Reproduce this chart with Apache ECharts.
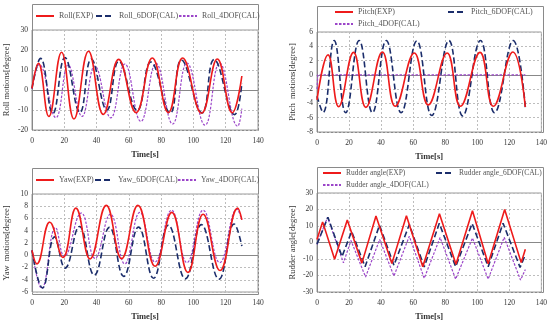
<!DOCTYPE html>
<html><head><meta charset="utf-8">
<script src="https://cdn.jsdelivr.net/npm/echarts@6/dist/echarts.min.js"></script>
<style>html,body{margin:0;padding:0;background:#fff}#c{width:550px;height:322px}</style>
</head><body><div id="c"></div>
<script>
// ---- data (time [s], value) ----
const xTicks = [0, 20, 40, 60, 80, 100, 120, 140];
const rollExp = [[0,0.8],[4,13.3],[10.4,-13.2],[18.3,18.9],[26,-14.5],[35,19.4],[44.2,-12.2],[53.7,15.3],[64.5,-11.3],[74.5,16],[84.5,-11.3],[93.3,16],[105,-11.6],[114.8,15.5],[124,-11.4],[130,7]];
const roll6 = [[0,0.8],[5.3,15.8],[12.9,-11.8],[20.4,16.2],[29.7,-11.3],[36.7,15.5],[46.4,-10],[53.8,14.4],[65.2,-10.2],[73.6,14],[85.6,-11.6],[92.5,15],[105.3,-11.5],[112.8,15.2],[125.5,-12.3],[130,3.5]];
const roll4 = [[0,0.5],[4.5,12.8],[14.8,-13.8],[22.4,12.5],[31,-13.2],[38.9,12],[48.8,-13.9],[57.5,13],[67.4,-15.7],[76.8,13.3],[87.1,-17],[96,13.5],[107.2,-17.6],[116.2,13.5],[127.4,-18.1],[130,-9.3]];
const pitchExp = [[0,-3.5],[6.9,2.8],[13.5,-4.45],[22.8,3.15],[30.5,-4.55],[40.8,3.2],[48.8,-4.4],[60.7,3.05],[69.4,-4.2],[81.2,3.05],[89.5,-4.4],[101.7,3.15],[110,-4.4],[122.2,3.2],[130,-4.5]];
const pitch6 = [[0,-3],[3.8,-5.25],[10.7,4.8],[17.9,-5.3],[26.3,4.8],[34.6,-5.3],[43.2,4.8],[52.5,-5.3],[62.3,4.75],[71.6,-5.7],[82.3,4.8],[90.9,-5.75],[102,4.8],[110.8,-5.3],[122.4,4.8],[130,-4.6]];
const pitch4 = [[0,-2],[0.5,0],[130,0]];
const yawExp = [[0,0.8],[3,-1.4],[11,5.4],[19.2,-0.35],[27.2,7.7],[36,-0.6],[46,8.15],[55.5,-0.55],[65.6,8.15],[76.3,-1.8],[86.6,7],[96.6,-2.8],[106,6.7],[116.5,-2.5],[127.4,7.7],[130,5.8]];
const yaw6 = [[0,0.8],[6.5,-5.35],[14,3],[20.5,-2.1],[29.4,4.7],[38.6,-3.25],[48,4.55],[56.8,-3.45],[66,4.6],[75.3,-3.75],[84.5,4.9],[95,-3.85],[104.9,5],[115.8,-3.9],[125.2,5.1],[130,1.5]];
const yaw4 = [[0,0.8],[6,-5.4],[14.6,4.5],[20,-0.2],[30.5,6.9],[39,-0.5],[48.6,6.7],[57.5,-1.4],[66.8,7],[76.2,-1.1],[86.4,7.35],[96,-1.2],[106,7.35],[116.3,-1.2],[127,7.5],[130,5.8]];
const rudExp = [[0,1.8],[3.5,12.5],[11,-10.2],[18.9,13.6],[28,-12.5],[36.8,16],[46.7,-12.8],[55.8,16.2],[66,-14.7],[76.4,17.4],[86.7,-13.2],[97,19.3],[106.8,-12.9],[117.1,20],[127.4,-12.2],[130,-4.1]];
const rud6 = [[0,-1],[6.8,15.3],[15.6,-8.5],[21.6,6.7],[30,-14.7],[39,10.5],[48,-13.8],[57.6,10.9],[66.9,-14.8],[76.3,11.6],[86.5,-14.7],[96.8,11.5],[106.8,-14.7],[116.1,11.7],[126.7,-15.1],[130,-7.4]];
const rud4 = [[0,-1.2],[6.6,15.3],[16.5,-12.3],[21.2,1.2],[30.3,-20.9],[39.1,1.8],[48,-20.3],[57.6,3.8],[66.9,-21.7],[76.8,3],[86.5,-22.2],[97,2.7],[106.8,-22.2],[116.8,3.2],[127,-22.8],[130,-16.4]];

const names = {
  roll: ['Roll(EXP)','Roll_6DOF(CAL)','Roll_4DOF(CAL)'],
  pitch: ['Pitch(EXP)','Pitch_6DOF(CAL)','Pitch_4DOF(CAL)'],
  yaw: ['Yaw(EXP)','Yaw_6DOF(CAL)','Yaw_4DOF(CAL)'],
  rud: ['Rudder angle(EXP)','Rudder angle_6DOF(CAL)','Rudder angle_4DOF(CAL)']
};
const yNames = ['Roll motions[degree]','Pitch  motions[degree]','Yaw  motions[degree]','Rudder angle[degree]'];
const yRanges = [[-20,30,10],[-8,6,2],[-6,10,2],[-30,30,10]];

// ---- styling ----
const FONT = '"Liberation Serif", "Times New Roman", serif';
const RED = '#ee1b1b', NAVY = '#1b2d6b', PURPLE = '#9b45c9';
const grids = [
  {left:32, top:30, width:226, height:100},
  {left:317, top:32, width:226, height:100},
  {left:32, top:194, width:226, height:100},
  {left:317, top:193, width:226, height:99}
];
const boxTops = [4, 6, 168, 167];
const splitLine = {show:true, lineStyle:{color:'#bdbdbd', type:[2,2], width:1}};

const xAxis = grids.map((g,i)=>({
  type:'value', gridIndex:i, min:0, max:140, interval:20,
  name:'Time[s]', nameLocation:'middle', nameGap:20,
  nameTextStyle:{fontFamily:FONT, fontSize:8.5, fontWeight:'bold', color:'#333'},
  axisLine:{show:true, lineStyle:{color:'#888'}}, axisTick:{show:false},
  axisLabel:{fontFamily:FONT, fontSize:7.5, color:'#333', margin:7},
  splitLine
}));
const yAxis = grids.map((g,i)=>({
  type:'value', gridIndex:i, min:yRanges[i][0], max:yRanges[i][1], interval:yRanges[i][2],
  name:yNames[i], nameLocation:'middle', nameRotate:90, nameGap:(i%2===0?21:20),
  nameTextStyle:{fontFamily:FONT, fontSize:8.5, color:'#333'},
  axisLine:{show:true, lineStyle:{color:'#888'}}, axisTick:{show:false},
  axisLabel:{fontFamily:FONT, fontSize:7.5, color:'#333', margin:4},
  splitLine
}));

function mk(name, data, idx, kind, smooth){
  const st = kind===0 ? {color:RED, width:1.6, type:'solid'}
           : kind===1 ? {color:NAVY, width:1.6, type:[6,3]}
           : {color:PURPLE, width:1.2, type:[2.5,1.5]};
  return {name, type:'line', data, xAxisIndex:idx, yAxisIndex:idx, smooth:smooth?0.45:false,
    symbol:'none', showSymbol:false, lineStyle:st, itemStyle:{color:st.color}, z: 10-kind, animation:false};
}
const series = [
  mk(names.roll[0], rollExp, 0, 0, true), mk(names.roll[1], roll6, 0, 1, true), mk(names.roll[2], roll4, 0, 2, true),
  mk(names.pitch[0], pitchExp, 1, 0, true), mk(names.pitch[1], pitch6, 1, 1, true), mk(names.pitch[2], pitch4, 1, 2, false),
  mk(names.yaw[0], yawExp, 2, 0, true), mk(names.yaw[1], yaw6, 2, 1, true), mk(names.yaw[2], yaw4, 2, 2, true),
  mk(names.rud[0], rudExp, 3, 0, false), mk(names.rud[1], rud6, 3, 1, false), mk(names.rud[2], rud4, 3, 2, false)
];

function lg(name, left, top, fs){
  return {data:[name], left, top, itemWidth:18, itemHeight:8, itemGap:4, selectedMode:false, padding:0,
    itemStyle:{opacity:0, borderWidth:0},
    textStyle:{fontFamily:FONT, fontSize:fs||8, color:'#555'}};
}
const legend = [
  lg(names.roll[0], 35, 12), lg(names.roll[1], 95, 12), lg(names.roll[2], 178, 12, 7.8),
  lg(names.pitch[0], 334, 8), lg(names.pitch[1], 447, 8), lg(names.pitch[2], 334, 20),
  lg(names.yaw[0], 35, 176), lg(names.yaw[1], 94, 176), lg(names.yaw[2], 177, 176, 7.8),
  lg(names.rud[0], 322, 169, 7.5), lg(names.rud[1], 435, 169, 7.5), lg(names.rud[2], 322, 181, 7.5)
];

const graphic = grids.map((g,i)=>({
  type:'rect', silent:true, z:0,
  shape:{x:g.left+0.5, y:boxTops[i]+0.5, width:g.width, height:g.top+g.height-boxTops[i]},
  style:{fill:'none', stroke:'#8a8a8a', lineWidth:1}
}));

const chart = echarts.init(document.getElementById('c'), null, {renderer:'canvas'});
chart.setOption({
  animation:false, backgroundColor:'#fff',
  grid: grids.map(g=>Object.assign({show:true, borderColor:'#9a9a9a', borderWidth:1, backgroundColor:'transparent'}, g)),
  xAxis, yAxis, series, legend, graphic
});
</script></body></html>
